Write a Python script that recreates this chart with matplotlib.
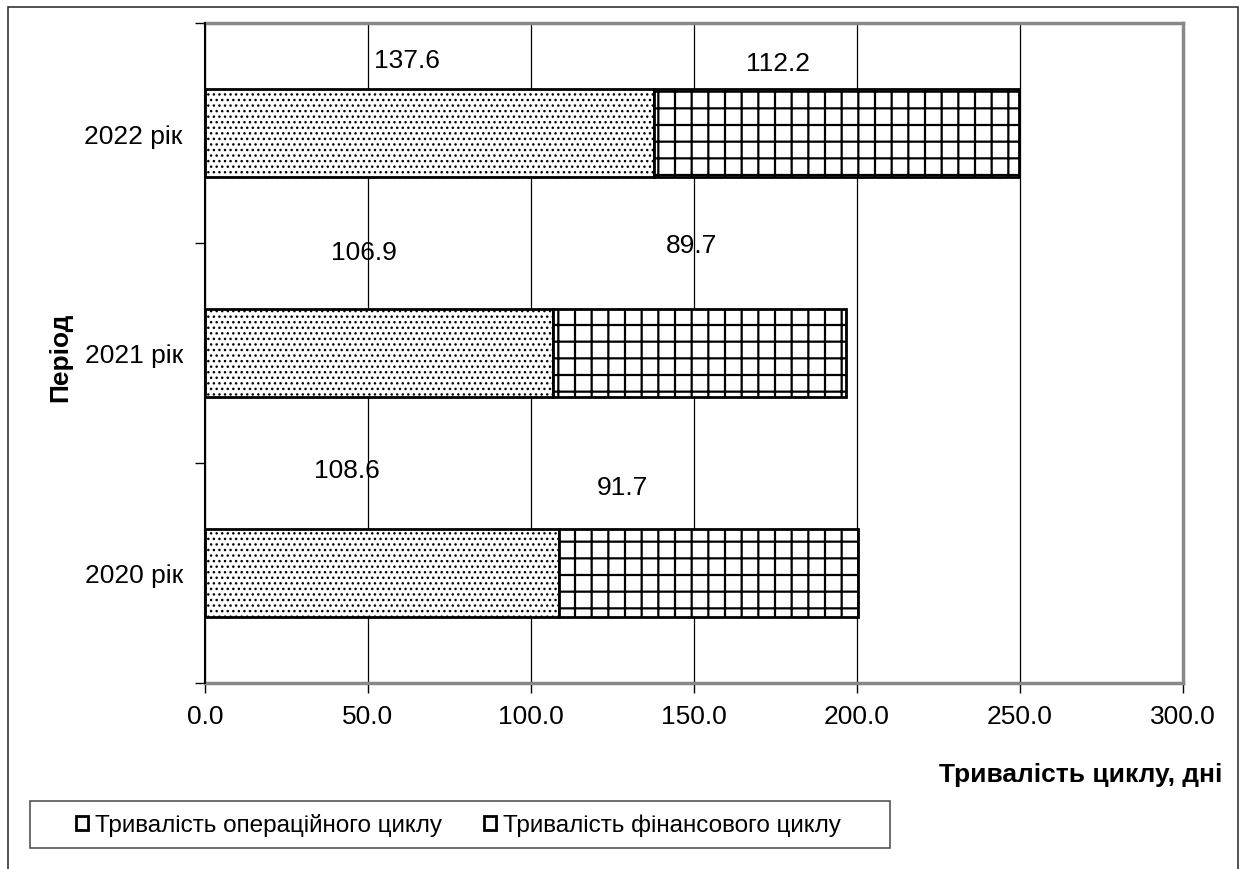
import matplotlib
matplotlib.use('Agg')
import matplotlib.pyplot as plt
from matplotlib.patches import Rectangle, Patch
import numpy as np

plt.rcParams['font.family'] = ['Liberation Sans', 'DejaVu Sans']

periods = ['2020 рік', '2021 рік', '2022 рік']
operating = [108.6, 106.9, 137.6]
financial = [91.7, 89.7, 112.2]
series_names = ['Тривалість операційного циклу', 'Тривалість фінансового циклу']

# label spots (x in days, y offset from the bar centre) as they sit in the original
op_label_x = [43.6, 48.8, 62.0]
op_label_dy = [0.47, 0.46, 0.33]
fin_label_x = [128.2, 149.4, 175.8]
fin_label_dy = [0.39, 0.49, 0.32]

FS = 19

fig = plt.figure(figsize=(12.46, 8.7), dpi=100)
ax = fig.add_axes([205/1246, 1 - 684/870, (1183 - 205)/1246, (684 - 24)/870])

y = np.arange(len(periods))
h = 0.4
plt.rcParams['hatch.linewidth'] = 1.0
ax.barh(y, operating, height=h, color='white', edgecolor='black', hatch='...', linewidth=2, zorder=3)
plt.rcParams['hatch.linewidth'] = 1.6
ax.barh(y, financial, left=operating, height=h, color='white', edgecolor='black', hatch='+', linewidth=2, zorder=3)

for i in range(len(periods)):
    ax.text(op_label_x[i], y[i] + op_label_dy[i], f'{operating[i]:.1f}', ha='center', va='center', fontsize=FS, zorder=4)
    ax.text(fin_label_x[i], y[i] + fin_label_dy[i], f'{financial[i]:.1f}', ha='center', va='center', fontsize=FS, zorder=4)

ax.set_xlim(0, 300)
ax.set_ylim(-0.5, 2.5)
ax.set_xticks(np.arange(0, 301, 50))
ax.set_xticklabels([f'{v:.1f}' for v in np.arange(0, 301, 50)], fontsize=FS)
ax.set_yticks(y)
ax.set_yticklabels(periods, fontsize=FS)
ax.set_yticks(np.arange(-0.5, 2.6, 1), minor=True)
ax.tick_params(axis='y', which='major', length=0, pad=16)
ax.tick_params(axis='y', which='minor', length=7, width=1, direction='out')
ax.tick_params(axis='x', length=7, width=1, direction='out', pad=8)
ax.grid(axis='x', color='black', linewidth=0.9, zorder=0)

for s in ['top', 'right', 'bottom']:
    ax.spines[s].set_color('#888888')
    ax.spines[s].set_linewidth(2.5)
ax.spines['left'].set_color('black')
ax.spines['left'].set_linewidth(1.5)
ax.spines['left'].set_zorder(5)

fig.text(1222/1246, 1 - 775/870, 'Тривалість циклу, дні', ha='right', va='center', fontsize=FS, fontweight='bold')
fig.text(60/1246, 1 - 357/870, 'Період', ha='center', va='center', rotation=90, fontsize=FS, fontweight='bold')

plt.rcParams['hatch.linewidth'] = 1.5
h1 = Patch(facecolor='white', edgecolor='black', hatch='.', linewidth=2)
h2 = Patch(facecolor='white', edgecolor='black', linewidth=2)
leg = fig.legend([h1, h2], series_names, loc='center left', bbox_to_anchor=(76/1246, 1 - 826/870),
                 ncol=2, fontsize=17.5, frameon=False, handlelength=0.5, handleheight=0.5,
                 handletextpad=0.3, columnspacing=1.7, borderpad=0, borderaxespad=0)

fig.patches.append(Rectangle((30/1246, 1 - 849/870), (890 - 30)/1246, (849 - 802)/870, transform=fig.transFigure,
                             fill=False, edgecolor='#555555', linewidth=1.2))
fig.patches.append(Rectangle((8/1246, -0.05), (1238 - 8)/1246, 1.05 - 8/870, transform=fig.transFigure,
                             fill=False, edgecolor='#333333', linewidth=1.2))

fig.savefig('out.png', dpi=100)
